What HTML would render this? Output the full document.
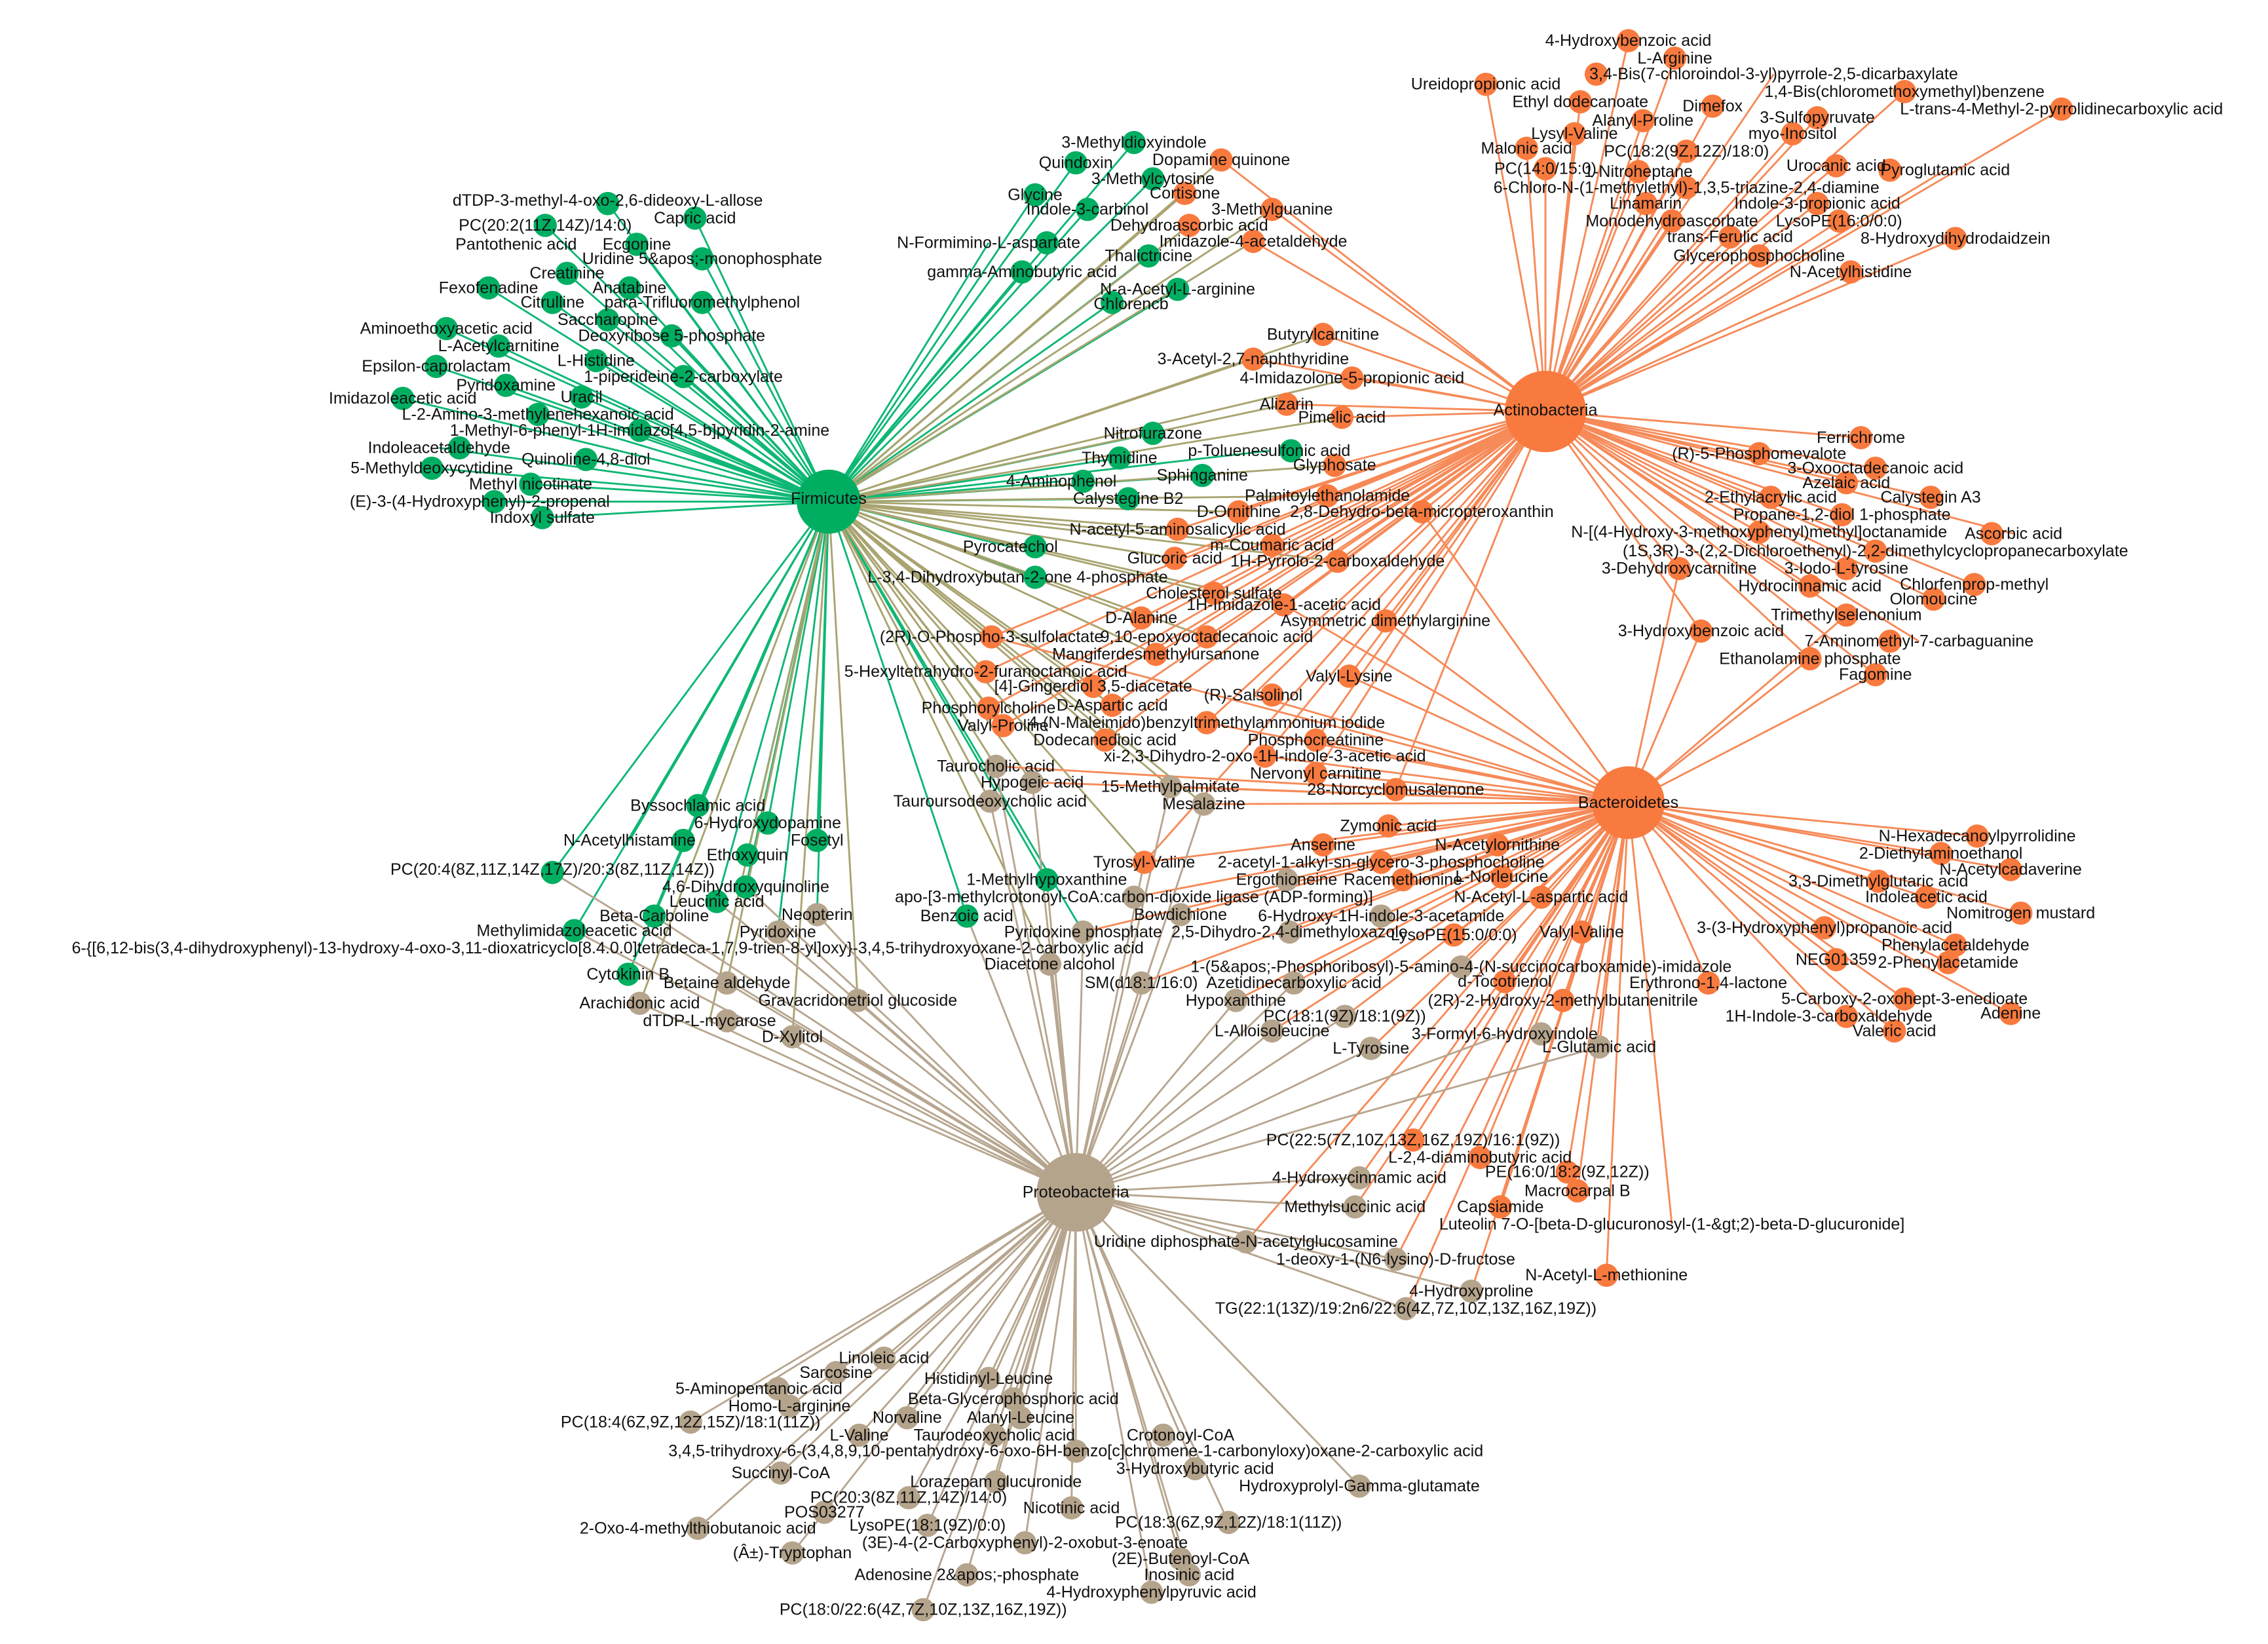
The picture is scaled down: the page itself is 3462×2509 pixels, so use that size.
<!DOCTYPE html>
<html><head><meta charset="utf-8"><style>
html,body{margin:0;padding:0;background:#fff;width:3462px;height:2509px;overflow:hidden}
svg{display:block}
text{font-family:"Liberation Sans",Arial,sans-serif;font-size:11.3px;fill:#111;text-anchor:middle;dominant-baseline:central}
</style></head><body>
<svg width="3462" height="2509" viewBox="0 0 1560 1130.6" xmlns="http://www.w3.org/2000/svg">
<rect width="1560" height="1131" fill="#fff"/>
<!-- Firmicutes green edges -->
<path fill="none" stroke="#0fb775" stroke-width="1.3" d="
M570 345L478 150M570 345L418 140M570 345L375 155M570 345L438 168M570 345L483 178M570 345L390 188M570 345L433 198M570 345L336 198M570 345L380 208M570 345L483 208M570 345L418 220M570 345L307 226M570 345L462 231M570 345L343 238M570 345L410 248M570 345L300 252M570 345L470 259M570 345L348 265M570 345L400 273M570 345L277 274M570 345L370 285M570 345L440 296M570 345L302 308M570 345L297 322M570 345L403 316M570 345L365 333M570 345L330 345M570 345L373 356
M570 345L780 98M570 345L740 112M570 345L793 123M570 345L712 134M570 345L748 144M570 345L680 167M570 345L703 187M570 345L810 199M570 345L765 208M570 345L790 176
M570 345L793 298M570 345L873 310M570 345L770 315M570 345L827 327M570 345L730 331M570 345L776 343M570 345L695 376M570 345L712 397
M570 345L480 554M570 345L528 566M570 345L433 578M570 345L562 578M570 345L514 588M570 345L380 600M570 345L513 610M570 345L493 620M570 345L450 630M570 345L562 629M570 345L395 640M570 345L535 641M570 345L432 670M570 345L720 605M570 345L665 630M570 345L745 641"/>
<!-- Firmicutes olive edges -->
<path fill="none" stroke="#a9a470" stroke-width="1.3" d="
M570 345L815 133M570 345L840 110M570 345L875 144M570 345L818 155M570 345L862 166M570 345L910 230M570 345L862 247M570 345L930 260M570 345L885 278M570 345L923 287M570 345L918 320M570 345L913 341M570 345L852 352M570 345L810 364M570 345L875 375M570 345L808 384M570 345L920 386M570 345L835 408M570 345L883 416M570 345L785 425M570 345L682 438M570 345L830 438M570 345L795 450M570 345L678 462M570 345L752 472M570 345L680 487M570 345L765 485M570 345L690 499M570 345L760 509M570 345L685 527M570 345L710 538M570 345L681 551M570 345L787 593M570 345L500 676M570 345L590 688M570 345L440 690M570 345L488 702M570 345L545 713M570 345L722 663M570 345L805 541M570 345L828 553"/>
<!-- Actinobacteria orange edges -->
<path fill="none" stroke="#f68a58" stroke-width="1.3" d="
M1063 283L1120 28M1063 283L1152 40M1063 283L1220 51M1063 283L1022 58M1063 283L1310 63M1063 283L1087 70M1063 283L1178 73M1063 283L1418 75M1063 283L1130 83M1063 283L1250 81M1063 283L1083 92M1063 283L1233 92M1063 283L1050 102M1063 283L1160 104M1063 283L1063 116M1063 283L1127 118M1063 283L1263 114M1063 283L1338 117M1063 283L1160 129M1063 283L1132 140M1063 283L1250 140M1063 283L1150 152M1063 283L1265 152M1063 283L1190 163M1063 283L1345 164M1063 283L1210 176M1063 283L1273 187
M1063 283L1280 301M1063 283L1210 312M1063 283L1290 322M1063 283L1270 332M1063 283L1218 342M1063 283L1328 342M1063 283L1267 354M1063 283L1210 366M1063 283L1385 367M1063 283L1290 379M1063 283L1155 391M1063 283L1270 391M1063 283L1245 403M1063 283L1358 402M1063 283L1330 412M1063 283L1270 423M1063 283L1170 434M1063 283L1320 441M1063 283L1245 453M1063 283L1290 464
M1063 283L910 230M1063 283L862 247M1063 283L930 260M1063 283L885 278M1063 283L923 287M1063 283L918 320M1063 283L913 341M1063 283L852 352M1063 283L978 352M1063 283L810 364M1063 283L875 375M1063 283L808 384M1063 283L920 386M1063 283L835 408M1063 283L883 416M1063 283L953 427M1063 283L785 425M1063 283L682 438M1063 283L830 438M1063 283L795 450M1063 283L678 462M1063 283L752 472M1063 283L928 465M1063 283L862 478M1063 283L680 487M1063 283L765 485M1063 283L690 499M1063 283L830 497M1063 283L760 509M1063 283L905 509M1063 283L870 520M1063 283L905 532M1063 283L960 543M1063 283L840 110M1063 283L875 144M1063 283L862 166M1063 283L787 593"/>
<!-- Bacteroidetes orange edges -->
<path fill="none" stroke="#f68a58" stroke-width="1.3" d="
M1120 552L1360 575M1120 552L1335 587M1120 552L1383 598M1120 552L1292 606M1120 552L1325 617M1120 552L1390 628M1120 552L1255 638M1120 552L1345 650M1120 552L1263 660M1120 552L1340 662M1120 552L1175 676M1120 552L1310 687M1120 552L1258 699M1120 552L1383 697M1120 552L1303 709
M1120 552L955 568M1120 552L910 581M1120 552L1030 581M1120 552L950 593M1120 552L787 593M1120 552L885 605M1120 552L965 605M1120 552L1033 603M1120 552L1060 617M1120 552L780 617M1120 552L812 629M1120 552L950 630M1120 552L745 641M1120 552L887 641M1120 552L1000 643M1120 552L1088 641M1120 552L1005 665M1120 552L1035 675M1120 552L785 676M1120 552L890 676M1120 552L850 688M1120 552L1075 688M1120 552L925 699M1120 552L875 709M1120 552L1035 711M1120 552L943 721M1120 552L1100 720
M1120 552L972 784M1120 552L1018 796M1120 552L935 810M1120 552L1078 806M1120 552L1085 819M1120 552L932 830M1120 552L1032 830M1120 552L1150 842M1120 552L857 854M1120 552L960 866M1120 552L1105 877M1120 552L1012 888M1120 552L967 900
M1120 552L928 465M1120 552L862 478M1120 552L830 497M1120 552L905 509M1120 552L870 520M1120 552L905 532M1120 552L960 543M1120 552L953 427M1120 552L1170 434M1120 552L1245 453M1120 552L1290 464M1120 552L1270 423M1120 552L1155 391M1120 552L685 527M1120 552L710 538M1120 552L828 553M1120 552L805 541M1120 552L978 352M1120 552L883 416M1120 552L682 438"/>
<!-- Proteobacteria tan edges -->
<path fill="none" stroke="#b7a68f" stroke-width="1.3" d="
M740 820L608 934M740 820L575 944M740 820L680 948M740 820L522 955M740 820L543 967M740 820L697 962M740 820L475 978M740 820L624 975M740 820L702 975M740 820L591 987M740 820L684 987M740 820L812 987M740 820L740 998M740 820L537 1013M740 820L822 1010M740 820L685 1019M740 820L935 1022M740 820L625 1030M740 820L567 1040M740 820L737 1037M740 820L480 1051M740 820L638 1049M740 820L845 1047M740 820L705 1061M740 820L545 1068M740 820L812 1072M740 820L665 1083M740 820L818 1083M740 820L792 1095M740 820L635 1107
M740 820L500 676M740 820L440 690M740 820L590 688M740 820L488 702M740 820L545 713M740 820L785 676M740 820L850 688M740 820L875 709M740 820L943 721M740 820L1035 711M740 820L1100 720M740 820L722 663M740 820L745 641M740 820L665 630M740 820L562 629M740 820L535 641M740 820L493 620M740 820L513 610M740 820L450 630M740 820L685 527M740 820L710 538M740 820L681 551M740 820L828 553M740 820L805 541M740 820L857 854M740 820L960 866M740 820L967 900M740 820L1012 888M740 820L932 830M740 820L935 810M740 820L890 676M740 820L925 699M740 820L812 629M740 820L787 593M740 820L720 605M740 820L395 640M740 820L380 600"/>
<!-- nodes -->
<g fill="#00ae62">
<circle cx="570" cy="345" r="22"/>
<circle cx="478" cy="150" r="8"/><circle cx="418" cy="140" r="8"/><circle cx="375" cy="155" r="8"/><circle cx="438" cy="168" r="8"/><circle cx="483" cy="178" r="8"/><circle cx="390" cy="188" r="8"/><circle cx="433" cy="198" r="8"/><circle cx="336" cy="198" r="8"/><circle cx="380" cy="208" r="8"/><circle cx="483" cy="208" r="8"/><circle cx="418" cy="220" r="8"/><circle cx="307" cy="226" r="8"/><circle cx="462" cy="231" r="8"/><circle cx="343" cy="238" r="8"/><circle cx="410" cy="248" r="8"/><circle cx="300" cy="252" r="8"/><circle cx="470" cy="259" r="8"/><circle cx="348" cy="265" r="8"/><circle cx="400" cy="273" r="8"/><circle cx="277" cy="274" r="8"/><circle cx="370" cy="285" r="8"/><circle cx="440" cy="296" r="8"/><circle cx="316" cy="308" r="8"/><circle cx="297" cy="322" r="8"/><circle cx="403" cy="316" r="8"/><circle cx="365" cy="333" r="8"/><circle cx="340" cy="345" r="8"/><circle cx="373" cy="356" r="8"/>
<circle cx="780" cy="98" r="8"/><circle cx="740" cy="112" r="8"/><circle cx="793" cy="123" r="8"/><circle cx="712" cy="134" r="8"/><circle cx="748" cy="144" r="8"/><circle cx="720" cy="167" r="8"/><circle cx="703" cy="187" r="8"/><circle cx="810" cy="199" r="8"/><circle cx="765" cy="208" r="8"/><circle cx="790" cy="176" r="8"/>
<circle cx="793" cy="298" r="8"/><circle cx="888" cy="310" r="8"/><circle cx="770" cy="315" r="8"/><circle cx="827" cy="327" r="8"/><circle cx="745" cy="331" r="8"/><circle cx="776" cy="343" r="8"/><circle cx="712" cy="376" r="8"/><circle cx="712" cy="397" r="8"/>
<circle cx="480" cy="554" r="8"/><circle cx="528" cy="566" r="8"/><circle cx="470" cy="578" r="8"/><circle cx="562" cy="578" r="8"/><circle cx="514" cy="588" r="8"/><circle cx="380" cy="600" r="8"/><circle cx="513" cy="610" r="8"/><circle cx="493" cy="620" r="8"/><circle cx="450" cy="630" r="8"/><circle cx="395" cy="640" r="8"/><circle cx="432" cy="670" r="8"/><circle cx="720" cy="605" r="8"/><circle cx="665" cy="630" r="8"/>
</g>
<g fill="#f97a3e">
<circle cx="1063" cy="283" r="28"/><circle cx="1120" cy="552" r="25"/>
<circle cx="1120" cy="28" r="8"/><circle cx="1152" cy="40" r="8"/><circle cx="1098" cy="51" r="8"/><circle cx="1022" cy="58" r="8"/><circle cx="1310" cy="63" r="8"/><circle cx="1087" cy="70" r="8"/><circle cx="1178" cy="73" r="8"/><circle cx="1418" cy="75" r="8"/><circle cx="1130" cy="83" r="8"/><circle cx="1250" cy="81" r="8"/><circle cx="1083" cy="92" r="8"/><circle cx="1233" cy="92" r="8"/><circle cx="1050" cy="102" r="8"/><circle cx="1160" cy="104" r="8"/><circle cx="1063" cy="116" r="8"/><circle cx="1127" cy="118" r="8"/><circle cx="1263" cy="114" r="8"/><circle cx="1300" cy="117" r="8"/><circle cx="1160" cy="129" r="8"/><circle cx="1132" cy="140" r="8"/><circle cx="1250" cy="140" r="8"/><circle cx="1150" cy="152" r="8"/><circle cx="1265" cy="152" r="8"/><circle cx="1190" cy="163" r="8"/><circle cx="1345" cy="164" r="8"/><circle cx="1210" cy="176" r="8"/><circle cx="1273" cy="187" r="8"/>
<circle cx="1280" cy="301" r="8"/><circle cx="1210" cy="312" r="8"/><circle cx="1290" cy="322" r="8"/><circle cx="1270" cy="332" r="8"/><circle cx="1218" cy="342" r="8"/><circle cx="1328" cy="342" r="8"/><circle cx="1267" cy="354" r="8"/><circle cx="1210" cy="366" r="8"/><circle cx="1370" cy="367" r="8"/><circle cx="1290" cy="379" r="8"/><circle cx="1155" cy="391" r="8"/><circle cx="1270" cy="391" r="8"/><circle cx="1245" cy="403" r="8"/><circle cx="1358" cy="402" r="8"/><circle cx="1330" cy="412" r="8"/><circle cx="1270" cy="423" r="8"/><circle cx="1170" cy="434" r="8"/><circle cx="1300" cy="441" r="8"/><circle cx="1245" cy="453" r="8"/><circle cx="1290" cy="464" r="8"/>
<circle cx="910" cy="230" r="8"/><circle cx="862" cy="247" r="8"/><circle cx="930" cy="260" r="8"/><circle cx="885" cy="278" r="8"/><circle cx="923" cy="287" r="8"/><circle cx="918" cy="320" r="8"/><circle cx="913" cy="341" r="8"/><circle cx="852" cy="352" r="8"/><circle cx="978" cy="352" r="8"/><circle cx="810" cy="364" r="8"/><circle cx="875" cy="375" r="8"/><circle cx="808" cy="384" r="8"/><circle cx="920" cy="386" r="8"/><circle cx="835" cy="408" r="8"/><circle cx="883" cy="416" r="8"/><circle cx="953" cy="427" r="8"/><circle cx="785" cy="425" r="8"/><circle cx="682" cy="438" r="8"/><circle cx="830" cy="438" r="8"/><circle cx="795" cy="450" r="8"/><circle cx="678" cy="462" r="8"/><circle cx="752" cy="472" r="8"/><circle cx="928" cy="465" r="8"/><circle cx="875" cy="478" r="8"/><circle cx="680" cy="487" r="8"/><circle cx="765" cy="485" r="8"/><circle cx="690" cy="499" r="8"/><circle cx="830" cy="497" r="8"/><circle cx="760" cy="509" r="8"/><circle cx="905" cy="509" r="8"/><circle cx="870" cy="520" r="8"/><circle cx="905" cy="532" r="8"/><circle cx="960" cy="543" r="8"/><circle cx="840" cy="110" r="8"/><circle cx="875" cy="144" r="8"/><circle cx="818" cy="155" r="8"/><circle cx="815" cy="133" r="8"/><circle cx="862" cy="166" r="8"/><circle cx="787" cy="593" r="8"/>
<circle cx="1360" cy="575" r="8"/><circle cx="1335" cy="587" r="8"/><circle cx="1383" cy="598" r="8"/><circle cx="1292" cy="606" r="8"/><circle cx="1325" cy="617" r="8"/><circle cx="1390" cy="628" r="8"/><circle cx="1255" cy="638" r="8"/><circle cx="1345" cy="650" r="8"/><circle cx="1263" cy="660" r="8"/><circle cx="1340" cy="662" r="8"/><circle cx="1175" cy="676" r="8"/><circle cx="1310" cy="687" r="8"/><circle cx="1270" cy="699" r="8"/><circle cx="1383" cy="697" r="8"/><circle cx="1303" cy="709" r="8"/>
<circle cx="955" cy="568" r="8"/><circle cx="910" cy="581" r="8"/><circle cx="1030" cy="581" r="8"/><circle cx="950" cy="593" r="8"/><circle cx="1033" cy="603" r="8"/><circle cx="1060" cy="617" r="8"/><circle cx="1000" cy="643" r="8"/><circle cx="1088" cy="641" r="8"/><circle cx="1035" cy="675" r="8"/><circle cx="1075" cy="688" r="8"/><circle cx="965" cy="605" r="8"/>
<circle cx="972" cy="784" r="8"/><circle cx="1018" cy="796" r="8"/><circle cx="1078" cy="806" r="8"/><circle cx="1085" cy="819" r="8"/><circle cx="1032" cy="830" r="8"/><circle cx="1105" cy="877" r="8"/>
</g>
<g fill="#b5a48c">
<circle cx="740" cy="820" r="27"/>
<circle cx="608" cy="934" r="8"/><circle cx="575" cy="944" r="8"/><circle cx="680" cy="948" r="8"/><circle cx="535" cy="955" r="8"/><circle cx="543" cy="967" r="8"/><circle cx="697" cy="962" r="8"/><circle cx="475" cy="978" r="8"/><circle cx="624" cy="975" r="8"/><circle cx="702" cy="975" r="8"/><circle cx="591" cy="987" r="8"/><circle cx="684" cy="987" r="8"/><circle cx="800" cy="987" r="8"/><circle cx="740" cy="998" r="8"/><circle cx="537" cy="1013" r="8"/><circle cx="822" cy="1010" r="8"/><circle cx="685" cy="1019" r="8"/><circle cx="935" cy="1022" r="8"/><circle cx="625" cy="1030" r="8"/><circle cx="567" cy="1040" r="8"/><circle cx="737" cy="1037" r="8"/><circle cx="480" cy="1051" r="8"/><circle cx="638" cy="1049" r="8"/><circle cx="845" cy="1047" r="8"/><circle cx="705" cy="1061" r="8"/><circle cx="545" cy="1068" r="8"/><circle cx="812" cy="1072" r="8"/><circle cx="665" cy="1083" r="8"/><circle cx="818" cy="1083" r="8"/><circle cx="792" cy="1095" r="8"/><circle cx="635" cy="1107" r="8"/>
<circle cx="500" cy="676" r="8"/><circle cx="440" cy="690" r="8"/><circle cx="590" cy="688" r="8"/><circle cx="500" cy="702" r="8"/><circle cx="545" cy="713" r="8"/><circle cx="785" cy="676" r="8"/><circle cx="850" cy="688" r="8"/><circle cx="875" cy="709" r="8"/><circle cx="943" cy="721" r="8"/><circle cx="1060" cy="711" r="8"/><circle cx="1100" cy="720" r="8"/><circle cx="722" cy="663" r="8"/><circle cx="745" cy="641" r="8"/><circle cx="562" cy="629" r="8"/><circle cx="535" cy="641" r="8"/><circle cx="685" cy="527" r="8"/><circle cx="710" cy="538" r="8"/><circle cx="681" cy="551" r="8"/><circle cx="828" cy="553" r="8"/><circle cx="805" cy="541" r="8"/><circle cx="857" cy="854" r="8"/><circle cx="960" cy="866" r="8"/><circle cx="967" cy="900" r="8"/><circle cx="1012" cy="888" r="8"/><circle cx="932" cy="830" r="8"/><circle cx="935" cy="810" r="8"/><circle cx="890" cy="676" r="8"/><circle cx="925" cy="699" r="8"/><circle cx="812" cy="629" r="8"/><circle cx="885" cy="605" r="8"/><circle cx="887" cy="641" r="8"/><circle cx="950" cy="630" r="8"/><circle cx="780" cy="617" r="8"/><circle cx="1005" cy="665" r="8"/>
</g>
<!-- labels -->
<g>
<text x="570" y="343">Firmicutes</text><text x="1063" y="282">Actinobacteria</text><text x="1120" y="552">Bacteroidetes</text><text x="740" y="820">Proteobacteria</text>
<text x="418" y="138">dTDP-3-methyl-4-oxo-2,6-dideoxy-L-allose</text><text x="375" y="155">PC(20:2(11Z,14Z)/14:0)</text><text x="478" y="150">Capric acid</text><text x="355" y="168">Pantothenic acid</text><text x="438" y="168">Ecgonine</text><text x="483" y="178">Uridine 5&amp;apos;-monophosphate</text><text x="390" y="188">Creatinine</text><text x="433" y="198">Anatabine</text><text x="336" y="198">Fexofenadine</text><text x="380" y="208">Citrulline</text><text x="483" y="208">para-Trifluoromethylphenol</text><text x="418" y="220">Saccharopine</text><text x="307" y="226">Aminoethoxyacetic acid</text><text x="462" y="231">Deoxyribose 5-phosphate</text><text x="343" y="238">L-Acetylcarnitine</text><text x="410" y="248">L-Histidine</text><text x="300" y="252">Epsilon-caprolactam</text><text x="470" y="259">1-piperideine-2-carboxylate</text><text x="348" y="265">Pyridoxamine</text><text x="400" y="273">Uracil</text><text x="277" y="274">Imidazoleacetic acid</text><text x="370" y="285">L-2-Amino-3-methylenehexanoic acid</text><text x="440" y="296">1-Methyl-6-phenyl-1H-imidazo[4,5-b]pyridin-2-amine</text><text x="302" y="308">Indoleacetaldehyde</text><text x="297" y="322">5-Methyldeoxycytidine</text><text x="403" y="316">Quinoline-4,8-diol</text><text x="365" y="333">Methyl nicotinate</text><text x="330" y="345">(E)-3-(4-Hydroxyphenyl)-2-propenal</text><text x="373" y="356">Indoxyl sulfate</text>
<text x="780" y="98">3-Methyldioxyindole</text><text x="740" y="112">Quindoxin</text><text x="840" y="110">Dopamine quinone</text><text x="793" y="123">3-Methylcytosine</text><text x="815" y="133">Cortisone</text><text x="712" y="134">Glycine</text><text x="748" y="144">Indole-3-carbinol</text><text x="875" y="144">3-Methylguanine</text><text x="818" y="155">Dehydroascorbic acid</text><text x="680" y="167">N-Formimino-L-aspartate</text><text x="862" y="166">Imidazole-4-acetaldehyde</text><text x="790" y="176">Thalictricine</text><text x="703" y="187">gamma-Aminobutyric acid</text><text x="810" y="199">N-a-Acetyl-L-arginine</text><text x="778" y="209">Chlorencb</text>
<text x="793" y="298">Nitrofurazone</text><text x="873" y="310">p-Toluenesulfonic acid</text><text x="770" y="315">Thymidine</text><text x="827" y="327">Sphinganine</text><text x="730" y="331">4-Aminophenol</text><text x="776" y="343">Calystegine B2</text><text x="695" y="376">Pyrocatechol</text><text x="700" y="397">L-3,4-Dihydroxybutan-2-one 4-phosphate</text>
<text x="480" y="554">Byssochlamic acid</text><text x="528" y="566">6-Hydroxydopamine</text><text x="433" y="578">N-Acetylhistamine</text><text x="562" y="578">Fosetyl</text><text x="514" y="588">Ethoxyquin</text><text x="380" y="598">PC(20:4(8Z,11Z,14Z,17Z)/20:3(8Z,11Z,14Z))</text><text x="513" y="610">4,6-Dihydroxyquinoline</text><text x="493" y="620">Leucinic acid</text><text x="450" y="630">Beta-Carboline</text><text x="562" y="629">Neopterin</text><text x="395" y="640">Methylimidazoleacetic acid</text><text x="535" y="641">Pyridoxine</text><text x="418" y="652">6-{[6,12-bis(3,4-dihydroxyphenyl)-13-hydroxy-4-oxo-3,11-dioxatricyclo[8.4.0.0]tetradeca-1,7,9-trien-8-yl]oxy}-3,4,5-trihydroxyoxane-2-carboxylic acid</text><text x="432" y="670">Cytokinin B</text><text x="720" y="605">1-Methylhypoxanthine</text><text x="665" y="630">Benzoic acid</text>
<text x="1120" y="28">4-Hydroxybenzoic acid</text><text x="1152" y="40">L-Arginine</text><text x="1220" y="51">3,4-Bis(7-chloroindol-3-yl)pyrrole-2,5-dicarbaxylate</text><text x="1022" y="58">Ureidopropionic acid</text><text x="1310" y="63">1,4-Bis(chloromethoxymethyl)benzene</text><text x="1087" y="70">Ethyl dodecanoate</text><text x="1178" y="73">Dimefox</text><text x="1418" y="75">L-trans-4-Methyl-2-pyrrolidinecarboxylic acid</text><text x="1130" y="83">Alanyl-Proline</text><text x="1250" y="81">3-Sulfopyruvate</text><text x="1083" y="92">Lysyl-Valine</text><text x="1233" y="92">myo-Inositol</text><text x="1050" y="102">Malonic acid</text><text x="1160" y="104">PC(18:2(9Z,12Z)/18:0)</text><text x="1063" y="116">PC(14:0/15:0)</text><text x="1127" y="118">1-Nitroheptane</text><text x="1263" y="114">Urocanic acid</text><text x="1338" y="117">Pyroglutamic acid</text><text x="1160" y="129">6-Chloro-N-(1-methylethyl)-1,3,5-triazine-2,4-diamine</text><text x="1132" y="140">Linamarin</text><text x="1250" y="140">Indole-3-propionic acid</text><text x="1150" y="152">Monodehydroascorbate</text><text x="1265" y="152">LysoPE(16:0/0:0)</text><text x="1190" y="163">trans-Ferulic acid</text><text x="1345" y="164">8-Hydroxydihydrodaidzein</text><text x="1210" y="176">Glycerophosphocholine</text><text x="1273" y="187">N-Acetylhistidine</text>
<text x="910" y="230">Butyrylcarnitine</text><text x="862" y="247">3-Acetyl-2,7-naphthyridine</text><text x="930" y="260">4-Imidazolone-5-propionic acid</text><text x="885" y="278">Alizarin</text><text x="923" y="287">Pimelic acid</text><text x="918" y="320">Glyphosate</text><text x="913" y="341">Palmitoylethanolamide</text><text x="852" y="352">D-Ornithine</text><text x="978" y="352">2,8-Dehydro-beta-micropteroxanthin</text><text x="810" y="364">N-acetyl-5-aminosalicylic acid</text><text x="875" y="375">m-Coumaric acid</text><text x="808" y="384">Glucoric acid</text><text x="920" y="386">1H-Pyrrolo-2-carboxaldehyde</text><text x="835" y="408">Cholesterol sulfate</text><text x="883" y="416">1H-Imidazole-1-acetic acid</text><text x="953" y="427">Asymmetric dimethylarginine</text><text x="785" y="425">D-Alanine</text><text x="682" y="438">(2R)-O-Phospho-3-sulfolactate</text><text x="830" y="438">9,10-epoxyoctadecanoic acid</text><text x="795" y="450">Mangiferdesmethylursanone</text><text x="678" y="462">5-Hexyltetrahydro-2-furanoctanoic acid</text><text x="752" y="472">[4]-Gingerdiol 3,5-diacetate</text><text x="928" y="465">Valyl-Lysine</text><text x="862" y="478">(R)-Salsolinol</text><text x="680" y="487">Phosphorylcholine</text><text x="765" y="485">D-Aspartic acid</text><text x="690" y="499">Valyl-Proline</text><text x="830" y="497">4-(N-Maleimido)benzyltrimethylammonium iodide</text><text x="760" y="509">Dodecanedioic acid</text><text x="905" y="509">Phosphocreatinine</text><text x="870" y="520">xi-2,3-Dihydro-2-oxo-1H-indole-3-acetic acid</text><text x="905" y="532">Nervonyl carnitine</text><text x="960" y="543">28-Norcyclomusalenone</text>
<text x="1280" y="301">Ferrichrome</text><text x="1210" y="312">(R)-5-Phosphomevalote</text><text x="1290" y="322">3-Oxooctadecanoic acid</text><text x="1270" y="332">Azelaic acid</text><text x="1218" y="342">2-Ethylacrylic acid</text><text x="1328" y="342">Calystegin A3</text><text x="1267" y="354">Propane-1,2-diol 1-phosphate</text><text x="1210" y="366">N-[(4-Hydroxy-3-methoxyphenyl)methyl]octanamide</text><text x="1385" y="367">Ascorbic acid</text><text x="1290" y="379">(1S,3R)-3-(2,2-Dichloroethenyl)-2,2-dimethylcyclopropanecarboxylate</text><text x="1155" y="391">3-Dehydroxycarnitine</text><text x="1270" y="391">3-Iodo-L-tyrosine</text><text x="1245" y="403">Hydrocinnamic acid</text><text x="1358" y="402">Chlorfenprop-methyl</text><text x="1330" y="412">Olomoucine</text><text x="1270" y="423">Trimethylselenonium</text><text x="1170" y="434">3-Hydroxybenzoic acid</text><text x="1320" y="441">7-Aminomethyl-7-carbaguanine</text><text x="1245" y="453">Ethanolamine phosphate</text><text x="1290" y="464">Fagomine</text>
<text x="1360" y="575">N-Hexadecanoylpyrrolidine</text><text x="1335" y="587">2-Diethylaminoethanol</text><text x="1383" y="598">N-Acetylcadaverine</text><text x="1292" y="606">3,3-Dimethylglutaric acid</text><text x="1325" y="617">Indoleacetic acid</text><text x="1390" y="628">Nomitrogen mustard</text><text x="1255" y="638">3-(3-Hydroxyphenyl)propanoic acid</text><text x="1345" y="650">Phenylacetaldehyde</text><text x="1263" y="660">NEG01359</text><text x="1340" y="662">2-Phenylacetamide</text><text x="1175" y="676">Erythrono-1,4-lactone</text><text x="1310" y="687">5-Carboxy-2-oxohept-3-enedioate</text><text x="1258" y="699">1H-Indole-3-carboxaldehyde</text><text x="1383" y="697">Adenine</text><text x="1303" y="709">Valeric acid</text>
<text x="955" y="568">Zymonic acid</text><text x="910" y="581">Anserine</text><text x="1030" y="581">N-Acetylornithine</text><text x="950" y="593">2-acetyl-1-alkyl-sn-glycero-3-phosphocholine</text><text x="787" y="593">Tyrosyl-Valine</text><text x="885" y="605">Ergothioneine</text><text x="965" y="605">Racemethionine</text><text x="1033" y="603">L-Norleucine</text><text x="1060" y="617">N-Acetyl-L-aspartic acid</text><text x="780" y="617">apo-[3-methylcrotonoyl-CoA:carbon-dioxide ligase (ADP-forming)]</text><text x="812" y="629">Bowdichione</text><text x="950" y="630">6-Hydroxy-1H-indole-3-acetamide</text><text x="745" y="641">Pyridoxine phosphate</text><text x="887" y="641">2,5-Dihydro-2,4-dimethyloxazole</text><text x="1000" y="643">LysoPE(15:0/0:0)</text><text x="1088" y="641">Valyl-Valine</text><text x="722" y="663">Diacetone alcohol</text><text x="1005" y="665">1-(5&amp;apos;-Phosphoribosyl)-5-amino-4-(N-succinocarboxamide)-imidazole</text><text x="1035" y="675">d-Tocotrienol</text><text x="785" y="676">SM(d18:1/16:0)</text><text x="890" y="676">Azetidinecarboxylic acid</text><text x="850" y="688">Hypoxanthine</text><text x="1075" y="688">(2R)-2-Hydroxy-2-methylbutanenitrile</text><text x="925" y="699">PC(18:1(9Z)/18:1(9Z))</text><text x="875" y="709">L-Alloisoleucine</text><text x="1035" y="711">3-Formyl-6-hydroxyindole</text><text x="943" y="721">L-Tyrosine</text><text x="1100" y="720">L-Glutamic acid</text>
<text x="500" y="676">Betaine aldehyde</text><text x="440" y="690">Arachidonic acid</text><text x="590" y="688">Gravacridonetriol glucoside</text><text x="488" y="702">dTDP-L-mycarose</text><text x="545" y="713">D-Xylitol</text>
<text x="685" y="527">Taurocholic acid</text><text x="710" y="538">Hypogeic acid</text><text x="805" y="541">15-Methylpalmitate</text><text x="681" y="551">Tauroursodeoxycholic acid</text><text x="828" y="553">Mesalazine</text>
<text x="972" y="784">PC(22:5(7Z,10Z,13Z,16Z,19Z)/16:1(9Z))</text><text x="1018" y="796">L-2,4-diaminobutyric acid</text><text x="935" y="810">4-Hydroxycinnamic acid</text><text x="1078" y="806">PE(16:0/18:2(9Z,12Z))</text><text x="1085" y="819">Macrocarpal B</text><text x="932" y="830">Methylsuccinic acid</text><text x="1032" y="830">Capsiamide</text><text x="1150" y="842">Luteolin 7-O-[beta-D-glucuronosyl-(1-&amp;gt;2)-beta-D-glucuronide]</text><text x="857" y="854">Uridine diphosphate-N-acetylglucosamine</text><text x="960" y="866">1-deoxy-1-(N6-lysino)-D-fructose</text><text x="1105" y="877">N-Acetyl-L-methionine</text><text x="1012" y="888">4-Hydroxyproline</text><text x="967" y="900">TG(22:1(13Z)/19:2n6/22:6(4Z,7Z,10Z,13Z,16Z,19Z))</text>
<text x="608" y="934">Linoleic acid</text><text x="575" y="944">Sarcosine</text><text x="680" y="948">Histidinyl-Leucine</text><text x="522" y="955">5-Aminopentanoic acid</text><text x="543" y="967">Homo-L-arginine</text><text x="697" y="962">Beta-Glycerophosphoric acid</text><text x="475" y="978">PC(18:4(6Z,9Z,12Z,15Z)/18:1(11Z))</text><text x="624" y="975">Norvaline</text><text x="702" y="975">Alanyl-Leucine</text><text x="591" y="987">L-Valine</text><text x="684" y="987">Taurodeoxycholic acid</text><text x="812" y="987">Crotonoyl-CoA</text><text x="740" y="998">3,4,5-trihydroxy-6-(3,4,8,9,10-pentahydroxy-6-oxo-6H-benzo[c]chromene-1-carbonyloxy)oxane-2-carboxylic acid</text><text x="537" y="1013">Succinyl-CoA</text><text x="822" y="1010">3-Hydroxybutyric acid</text><text x="685" y="1019">Lorazepam glucuronide</text><text x="935" y="1022">Hydroxyprolyl-Gamma-glutamate</text><text x="625" y="1030">PC(20:3(8Z,11Z,14Z)/14:0)</text><text x="567" y="1040">POS03277</text><text x="737" y="1037">Nicotinic acid</text><text x="480" y="1051">2-Oxo-4-methylthiobutanoic acid</text><text x="638" y="1049">LysoPE(18:1(9Z)/0:0)</text><text x="845" y="1047">PC(18:3(6Z,9Z,12Z)/18:1(11Z))</text><text x="705" y="1061">(3E)-4-(2-Carboxyphenyl)-2-oxobut-3-enoate</text><text x="545" y="1068">(Â±)-Tryptophan</text><text x="812" y="1072">(2E)-Butenoyl-CoA</text><text x="665" y="1083">Adenosine 2&amp;apos;-phosphate</text><text x="818" y="1083">Inosinic acid</text><text x="792" y="1095">4-Hydroxyphenylpyruvic acid</text><text x="635" y="1107">PC(18:0/22:6(4Z,7Z,10Z,13Z,16Z,19Z))</text>
</g>
</svg>
</body></html>
